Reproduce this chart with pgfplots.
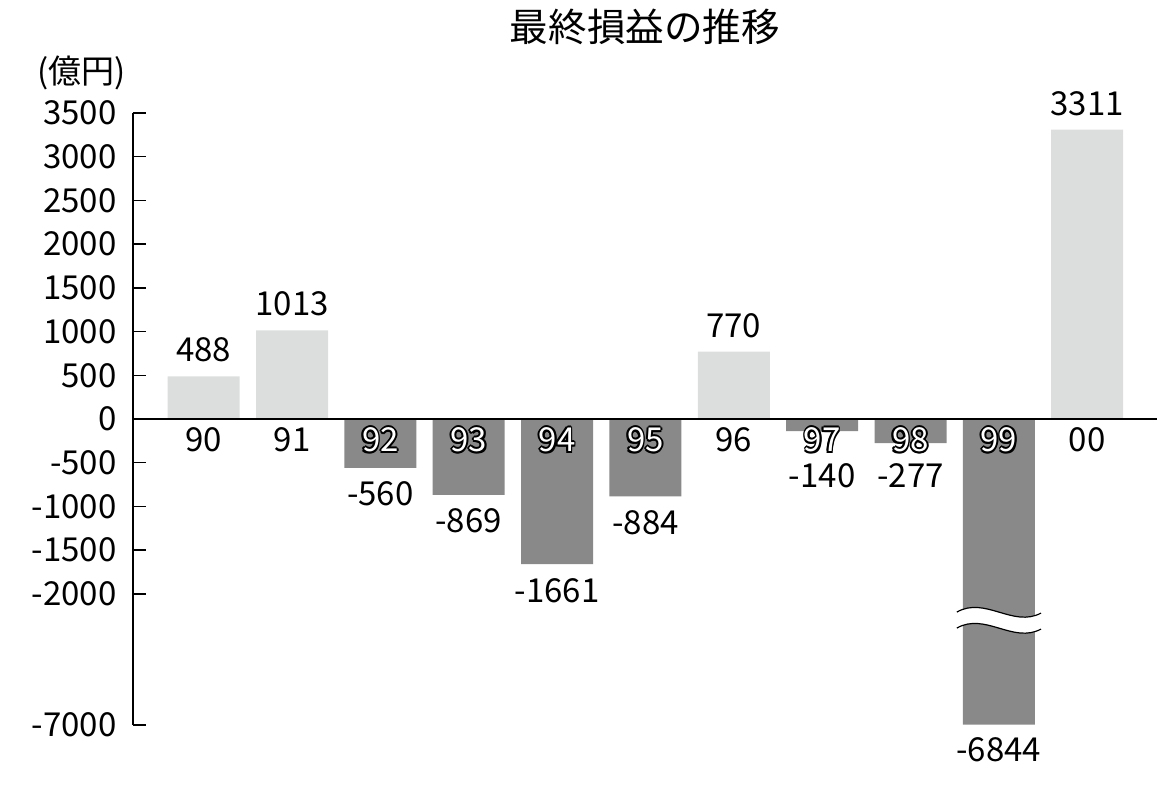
\documentclass[border=0pt]{standalone}
\usepackage{fontspec}
\setmainfont{Noto Sans CJK JP}
\usepackage{pgfplots}
\pgfplotsset{compat=1.18}

\definecolor{posbar}{HTML}{DCDDDD}
\definecolor{negbar}{HTML}{898989}

% white digits with a thin black rim (stacked copies)
\newsavebox\obox
\newcommand\oc[2]{\rlap{\kern#1\raisebox{#2}{\textcolor{black}{\usebox\obox}}}}
\newcommand\outl[1]{\setbox\obox\hbox{#1}%
  \oc{0.9pt}{0pt}\oc{-0.9pt}{0pt}\oc{0pt}{0.9pt}\oc{0pt}{-0.9pt}%
  \oc{0.64pt}{0.64pt}\oc{-0.64pt}{0.64pt}\oc{0.64pt}{-0.64pt}\oc{-0.64pt}{-0.64pt}%
  \textcolor{white}{\usebox\obox}}

\begin{document}
\begin{tikzpicture}[font=\fontsize{16.5pt}{19pt}\selectfont]
\useasboundingbox (-66.5pt,-30.5pt) rectangle (514.5pt,362.5pt);
\begin{axis}[
    at={(0,0)}, anchor=south west,
    width=512pt, height=306pt, scale only axis,
    xmin=-0.8, xmax=10.79,
    ymin=-3500, ymax=3500,
    axis x line=none,
    axis y line=left,
    axis line style={-, line width=0.7pt},
    ytick={-3500,-2000,-1500,-1000,-500,0,500,1000,1500,2000,2500,3000,3500},
    yticklabels={-7000,-2000,-1500,-1000,-500,0,500,1000,1500,2000,2500,3000,3500},
    tick align=inside,
    major tick length=6.5pt,
    tick style={line width=0.7pt, black},
    yticklabel style={inner sep=0pt, xshift=-8pt},
    clip=false,
  ]
  % bars (the 99 bar runs to the broken bottom of the axis)
  \addplot[ybar, bar width=36pt, bar shift=0pt, fill=posbar, draw=none]
    coordinates {(0,488) (1,1013) (6,770) (10,3311)};
  \addplot[ybar, bar width=36pt, bar shift=0pt, fill=negbar, draw=none]
    coordinates {(2,-560) (3,-869) (4,-1661) (5,-884) (7,-140) (8,-277) (9,-3495)};

  % value labels
  \addplot[draw=none, mark=none, nodes near coords, point meta=explicit symbolic,
    every node near coord/.append style={anchor=center, inner sep=0pt, black}]
    table[meta=l] {
    x  y     l
    0  788   488
    1  1313  1013
    2  -860  -560
    3  -1169 -869
    4  -1961 -1661
    5  -1184 -884
    6  1070  770
    7  -652  -140
    8  -652  -277
    9  -3786 -6844
    10 3611  3311
  };

  % year labels
  \addplot[draw=none, mark=none, nodes near coords, point meta=explicit symbolic,
    every node near coord/.append style={anchor=center, inner sep=0pt, black}]
    table[meta=l] {
    x  y    l
    0  -240 90
    1  -240 91
    6  -240 96
    10 -240 00
  };
  \addplot[draw=none, mark=none, nodes near coords={\outl{\pgfplotspointmeta}},
    point meta=explicit symbolic,
    every node near coord/.append style={anchor=center, inner sep=0pt}]
    table[meta=l] {
    x  y    l
    2  -240 92
    3  -240 93
    4  -240 94
    5  -240 95
    7  -240 97
    8  -240 98
    9  -240 99
  };

  \draw[line width=0.7pt] (axis cs:-0.8,0) -- (axis cs:10.79,0);

  % break mark on the 99 bar
  \fill[white] (axis cs:8.525,-2208) .. controls (axis cs:8.845,-2025) and (axis cs:9.162,-2391) .. (axis cs:9.477,-2220)
    -- (axis cs:9.477,-2403) .. controls (axis cs:9.162,-2574) and (axis cs:8.845,-2208) .. (axis cs:8.525,-2391) -- cycle;
  \draw[line width=0.6pt] (axis cs:8.525,-2208) .. controls (axis cs:8.845,-2025) and (axis cs:9.162,-2391) .. (axis cs:9.477,-2220);
  \draw[line width=0.6pt] (axis cs:8.525,-2391) .. controls (axis cs:8.845,-2208) and (axis cs:9.162,-2574) .. (axis cs:9.477,-2403);

  \node[font=\fontsize{19.3pt}{22pt}\selectfont] at (rel axis cs:0.5,1) [yshift=43pt] {最終損益の推移};
  \node at (rel axis cs:0,1) [xshift=-25.5pt, yshift=20pt] {(億円)};
\end{axis}
\end{tikzpicture}
\end{document}
